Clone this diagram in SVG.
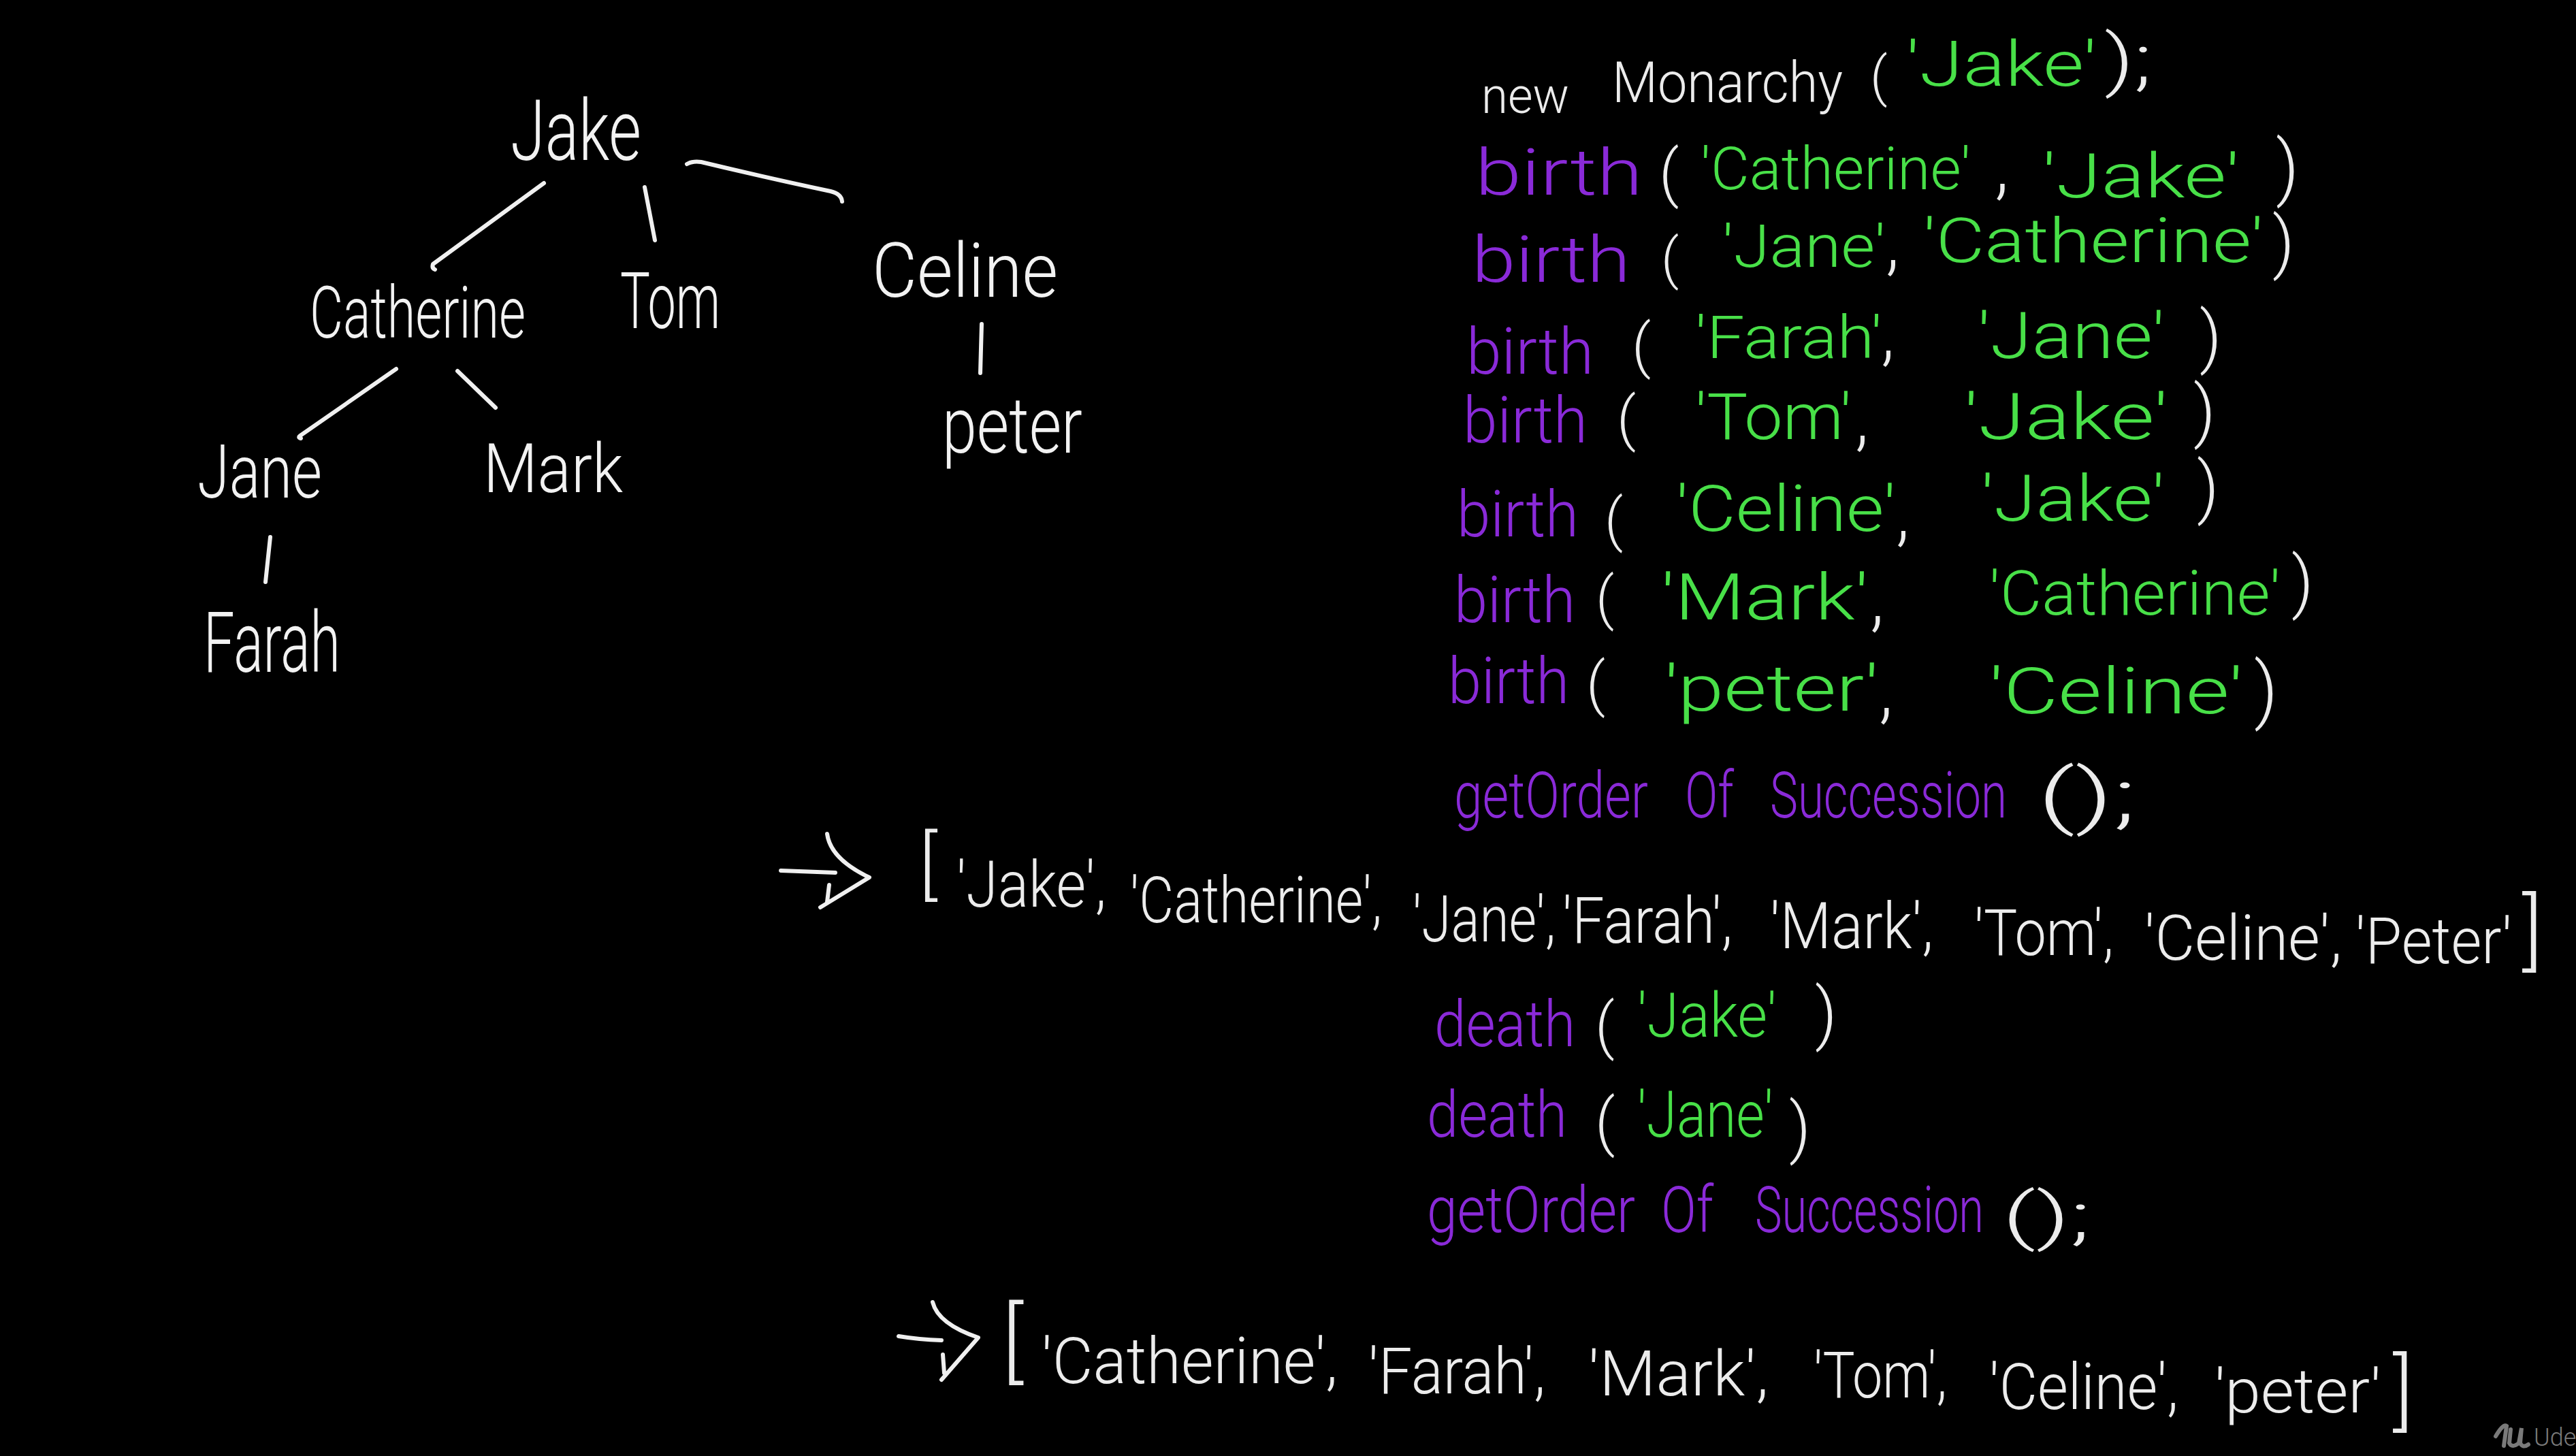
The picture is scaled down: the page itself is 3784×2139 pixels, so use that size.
<svg xmlns="http://www.w3.org/2000/svg" width="3784" height="2139" viewBox="0 0 3784 2139">
<style>
text{font-family:"Roboto","Inter","DejaVu Sans Condensed","Liberation Sans",sans-serif;font-weight:300;}
.w{fill:#ececec}
.g{fill:#48e048}
.p{fill:#8a2ad8}
.t{fill:#f2f2f2}
.ln{stroke:#f0f0f0;stroke-width:6;fill:none;stroke-linecap:round;stroke-linejoin:round}
.cd{font-size:94px}
</style>
<rect width="3784" height="2139" fill="#000"/>

<g id="connectors" class="ln">
<path d="M799,269 L636,388 Q634,394 639,396"/>
<path d="M947,275 L962,353"/>
<path d="M1009,241 Q1018,236 1030,238 Q1130,262 1220,281 Q1236,285 1237,296"/>
<path d="M1442,476 L1440,548"/>
<path d="M582,542 L441,640 Q437,643 442,644"/>
<path d="M672,545 L728,599"/>
<path d="M397,789 L390,855"/>
</g>

<g id="node-jake"><text class="t" x="750" y="235" font-size="125" textLength="192" lengthAdjust="spacingAndGlyphs">Jake</text></g>
<g id="node-catherine"><text class="t" x="455" y="496" font-size="105" textLength="317" lengthAdjust="spacingAndGlyphs">Catherine</text></g>
<g id="node-tom"><text class="t" x="911" y="482" font-size="115" textLength="147" lengthAdjust="spacingAndGlyphs">Tom</text></g>
<g id="node-celine"><text class="t" x="1281" y="436" font-size="112" textLength="273" lengthAdjust="spacingAndGlyphs">Celine</text></g>
<g id="node-peter"><text class="t" x="1384" y="665" font-size="115" textLength="206" lengthAdjust="spacingAndGlyphs">peter</text></g>
<g id="node-jane"><text class="t" x="290" y="731" font-size="110" textLength="183" lengthAdjust="spacingAndGlyphs">Jane</text></g>
<g id="node-mark"><text class="t" x="710" y="723" font-size="100" textLength="205" lengthAdjust="spacingAndGlyphs">Mark</text></g>
<g id="node-farah"><text class="t" x="299" y="987" font-size="125" textLength="201" lengthAdjust="spacingAndGlyphs">Farah</text></g>

<g id="code" class="cd">
<g id="line1">
<text class="w" x="2176" y="166" font-size="74" textLength="129" lengthAdjust="spacingAndGlyphs">new</text>
<text class="w" x="2368" y="150" font-size="84" textLength="339" lengthAdjust="spacingAndGlyphs">Monarchy</text>
<text class="w" x="2747" y="140" font-size="80">(</text>
<text class="g" x="2800" y="126" font-size="92" textLength="280" lengthAdjust="spacingAndGlyphs">'Jake'</text>
<text class="w" x="3091" y="122" font-size="100" textLength="70" lengthAdjust="spacingAndGlyphs">);</text>
</g>
<g id="line2">
<text class="p" x="2167" y="286" textLength="246" lengthAdjust="spacingAndGlyphs">birth</text>
<text class="w" x="2437" y="286" font-size="92">(</text>
<text class="g" x="2498" y="278" font-size="88" textLength="397" lengthAdjust="spacingAndGlyphs">'Catherine'</text>
<text class="w" x="2930" y="280" font-size="110">,</text>
<text class="g" x="3000" y="290" font-size="90" textLength="290" lengthAdjust="spacingAndGlyphs">'Jake'</text>
<text class="w" x="3343" y="282" font-size="105">)</text>
</g>
<g id="line3">
<text class="p" x="2162" y="414" textLength="233" lengthAdjust="spacingAndGlyphs">birth</text>
<text class="w" x="2440" y="408" font-size="82">(</text>
<text class="g" x="2530" y="392" font-size="88" textLength="240" lengthAdjust="spacingAndGlyphs">'Jane'</text>
<text class="w" x="2770" y="392" font-size="105">,</text>
<text class="g" x="2825" y="385" font-size="90" textLength="500" lengthAdjust="spacingAndGlyphs">'Catherine'</text>
<text class="w" x="3338" y="390" font-size="100">)</text>
</g>
<g id="line4">
<text class="p" x="2154" y="549" textLength="187" lengthAdjust="spacingAndGlyphs">birth</text>
<text class="w" x="2397" y="538" font-size="88">(</text>
<text class="g" x="2490" y="526" font-size="88" textLength="275" lengthAdjust="spacingAndGlyphs">'Farah'</text>
<text class="w" x="2763" y="525" font-size="105">,</text>
<text class="g" x="2905" y="526" font-size="94" textLength="275" lengthAdjust="spacingAndGlyphs">'Jane'</text>
<text class="w" x="3231" y="529" font-size="100">)</text>
</g>
<g id="line5">
<text class="p" x="2149" y="650" textLength="183" lengthAdjust="spacingAndGlyphs">birth</text>
<text class="w" x="2375" y="645" font-size="88">(</text>
<text class="g" x="2490" y="645" font-size="94" textLength="230" lengthAdjust="spacingAndGlyphs">'Tom'</text>
<text class="w" x="2725" y="650" font-size="105">,</text>
<text class="g" x="2885" y="645" font-size="94" textLength="300" lengthAdjust="spacingAndGlyphs">'Jake'</text>
<text class="w" x="3222" y="638" font-size="100">)</text>
</g>
<g id="line6">
<text class="p" x="2140" y="788" textLength="179" lengthAdjust="spacingAndGlyphs">birth</text>
<text class="w" x="2357" y="793" font-size="85">(</text>
<text class="g" x="2462" y="780" font-size="94" textLength="323" lengthAdjust="spacingAndGlyphs">'Celine'</text>
<text class="w" x="2785" y="790" font-size="105">,</text>
<text class="g" x="2910" y="765" font-size="94" textLength="270" lengthAdjust="spacingAndGlyphs">'Jake'</text>
<text class="w" x="3227" y="750" font-size="100">)</text>
</g>
<g id="line7">
<text class="p" x="2136" y="914" textLength="178" lengthAdjust="spacingAndGlyphs">birth</text>
<text class="w" x="2344" y="908" font-size="85">(</text>
<text class="g" x="2440" y="910" font-size="94" textLength="305" lengthAdjust="spacingAndGlyphs">'Mark'</text>
<text class="w" x="2747" y="915" font-size="108">,</text>
<text class="g" x="2922" y="903" font-size="90" textLength="428" lengthAdjust="spacingAndGlyphs">'Catherine'</text>
<text class="w" x="3366" y="889" font-size="100">)</text>
</g>
<g id="line8">
<text class="p" x="2127" y="1033" textLength="178" lengthAdjust="spacingAndGlyphs">birth</text>
<text class="w" x="2330" y="1035" font-size="88">(</text>
<text class="g" x="2445" y="1044" font-size="94" textLength="315" lengthAdjust="spacingAndGlyphs">'peter'</text>
<text class="w" x="2760" y="1050" font-size="108">,</text>
<text class="g" x="2922" y="1048" font-size="94" textLength="373" lengthAdjust="spacingAndGlyphs">'Celine'</text>
<text class="w" x="3311" y="1050" font-size="108">)</text>
</g>
<g id="line9">
<text class="p" transform="translate(2136,1201) scale(1,1.34)" font-size="70" textLength="285" lengthAdjust="spacingAndGlyphs">getOrder</text>
<text class="p" transform="translate(2475,1201) scale(1,1.38)" font-size="68" textLength="72" lengthAdjust="spacingAndGlyphs">Of</text>
<text class="p" transform="translate(2600,1201) scale(1,1.42)" font-size="66" textLength="348" lengthAdjust="spacingAndGlyphs">Succession</text>
<text class="w" x="2993" y="1205" font-size="105" textLength="145" lengthAdjust="spacingAndGlyphs">();</text>
</g>
</g>

<g id="result1" class="cd">
<path class="ln" d="M1147,1279 L1227,1282 M1215,1225 Q1220,1262 1277,1289 L1205,1333 M1218,1300 L1215,1325"/>
<text class="w" x="1350" y="1308" font-size="112">[</text>
<text class="w" transform="translate(1405,1332) scale(1,1.16)" font-size="81" textLength="220" lengthAdjust="spacingAndGlyphs">'Jake',</text>
<text class="w" transform="translate(1660,1355) scale(1,1.25)" font-size="75" textLength="370" lengthAdjust="spacingAndGlyphs">'Catherine',</text>
<text class="w" transform="translate(2075,1383) scale(1,1.24)" font-size="76" textLength="210" lengthAdjust="spacingAndGlyphs">'Jane',</text>
<text class="w" transform="translate(2295,1385) scale(1,1.19)" font-size="79" textLength="250" lengthAdjust="spacingAndGlyphs">'Farah',</text>
<text class="w" transform="translate(2600,1393) scale(1,1.13)" font-size="83" textLength="240" lengthAdjust="spacingAndGlyphs">'Mark',</text>
<text class="w" transform="translate(2900,1403) scale(1,1.22)" font-size="77" textLength="205" lengthAdjust="spacingAndGlyphs">'Tom',</text>
<text class="w" transform="translate(3150,1410) scale(1,1.1)" font-size="85" textLength="290" lengthAdjust="spacingAndGlyphs">'Celine',</text>
<text class="w" transform="translate(3460,1415) scale(1,1.15)" font-size="82" textLength="230" lengthAdjust="spacingAndGlyphs">'Peter'</text>
<text class="w" x="3705" y="1410" font-size="125">]</text>
</g>

<g id="death-lines" class="cd">
<g id="line10">
<text class="p" transform="translate(2107,1537) scale(1,1.175)" font-size="80" textLength="207" lengthAdjust="spacingAndGlyphs">death</text>
<text class="w" x="2343" y="1538" font-size="90">(</text>
<text class="g" transform="translate(2405,1523) scale(1,1.1)" font-size="82" textLength="205" lengthAdjust="spacingAndGlyphs">'Jake'</text>
<text class="w" x="2666" y="1523" font-size="100">)</text>
</g>
<g id="line11">
<text class="p" transform="translate(2096,1670) scale(1,1.175)" font-size="80" textLength="206" lengthAdjust="spacingAndGlyphs">death</text>
<text class="w" x="2343" y="1680" font-size="92">(</text>
<text class="g" transform="translate(2405,1670) scale(1,1.175)" font-size="80" textLength="200" lengthAdjust="spacingAndGlyphs">'Jane'</text>
<text class="w" x="2628" y="1690" font-size="98">)</text>
</g>
<g id="line12">
<text class="p" transform="translate(2096,1810) scale(1,1.237)" font-size="76" textLength="306" lengthAdjust="spacingAndGlyphs">getOrder</text>
<text class="p" transform="translate(2440,1810) scale(1,1.3)" font-size="72" textLength="77" lengthAdjust="spacingAndGlyphs">Of</text>
<text class="p" transform="translate(2578,1810) scale(1,1.47)" font-size="64" textLength="336" lengthAdjust="spacingAndGlyphs">Succession</text>
<text class="w" x="2941" y="1818" font-size="92" textLength="130" lengthAdjust="spacingAndGlyphs">();</text>
</g>
</g>

<g id="result2" class="cd">
<path class="ln" d="M1320,1963 Q1350,1968 1383,1969 M1370,1913 Q1378,1945 1437,1965 L1383,2027 M1385,1990 L1387,2017"/>
<text class="w" x="1472" y="2015" font-size="130">[</text>
<text class="w" transform="translate(1530,2032) scale(1,1.07)" font-size="88" textLength="435" lengthAdjust="spacingAndGlyphs">'Catherine',</text>
<text class="w" transform="translate(2010,2047) scale(1,1.15)" font-size="82" textLength="260" lengthAdjust="spacingAndGlyphs">'Farah',</text>
<text class="w" x="2333" y="2050" font-size="92" textLength="265" lengthAdjust="spacingAndGlyphs">'Mark',</text>
<text class="w" transform="translate(2664,2053) scale(1,1.29)" font-size="73" textLength="196" lengthAdjust="spacingAndGlyphs">'Tom',</text>
<text class="w" transform="translate(2922,2070) scale(1,1.15)" font-size="82" textLength="278" lengthAdjust="spacingAndGlyphs">'Celine',</text>
<text class="w" x="3253" y="2075" font-size="90" textLength="245" lengthAdjust="spacingAndGlyphs">'peter'</text>
<text class="w" x="3515" y="2086" font-size="125">]</text>
</g>

<g id="watermark">
<path d="M3666,2110 C3672,2100 3678,2092 3682,2095 L3678,2124 M3688,2100 L3686,2120 Q3690,2128 3700,2120 L3704,2098 L3702,2120 Q3706,2128 3714,2122" stroke="#7a7a7a" stroke-width="6" fill="none" stroke-linecap="round"/>
<text x="3722" y="2124" font-size="36" fill="#7a7a7a" font-weight="400">Ude</text>
</g>
</svg>
